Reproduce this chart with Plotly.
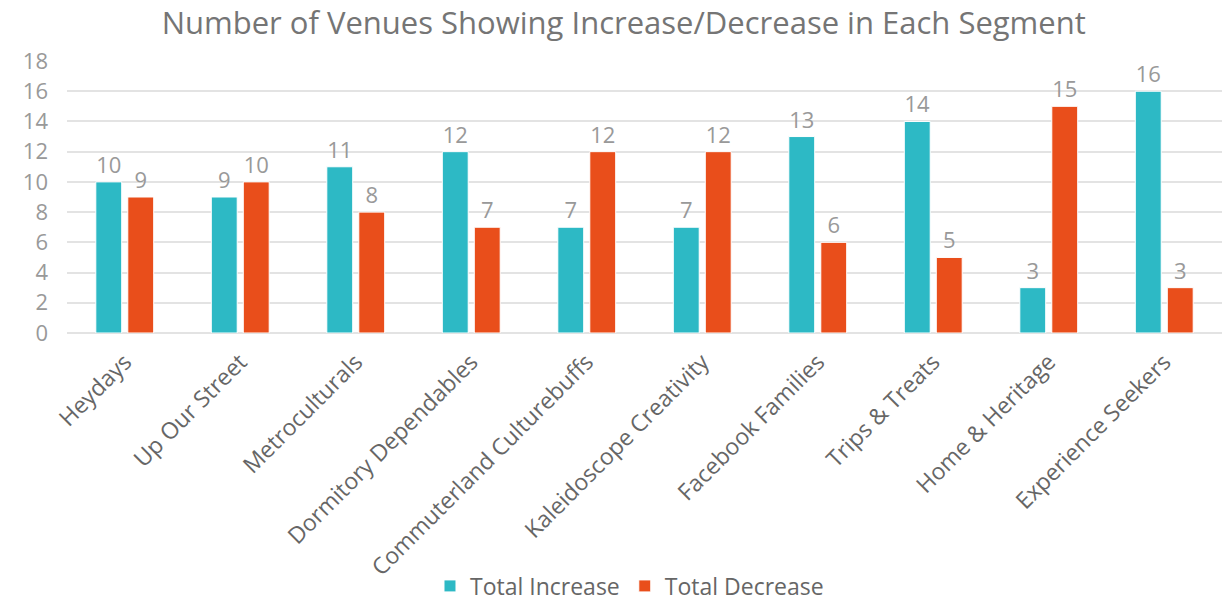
import plotly.graph_objects as go

categories = ["Heydays", "Up Our Street", "Metroculturals", "Dormitory Dependables",
              "Commuterland Culturebuffs", "Kaleidoscope Creativity", "Facebook Families",
              "Trips & Treats", "Home & Heritage", "Experience Seekers"]
total_increase = [10, 9, 11, 12, 7, 7, 13, 14, 3, 16]
total_decrease = [9, 10, 8, 7, 12, 12, 6, 5, 15, 3]
y_ticks = [0, 2, 4, 6, 8, 10, 12, 14, 16, 18]

FONT = "Open Sans"
fig = go.Figure()
fig.add_trace(go.Bar(name="Total Increase", x=categories, y=total_increase,
                     marker=dict(color="#2DB9C5", line=dict(color="white", width=1)),
                     text=total_increase, textposition="outside",
                     textfont=dict(size=22, color="#999999", family=FONT), cliponaxis=False))
fig.add_trace(go.Bar(name="Total Decrease", x=categories, y=total_decrease,
                     marker=dict(color="#E94E1B", line=dict(color="white", width=1)),
                     text=total_decrease, textposition="outside",
                     textfont=dict(size=22, color="#999999", family=FONT), cliponaxis=False))

fig.update_layout(
    width=1223, height=601,
    margin=dict(l=67, r=1, t=61, b=268, autoexpand=False),
    paper_bgcolor="white", plot_bgcolor="white",
    barmode="group", bargap=0.446, bargroupgap=0.19,
    title=dict(text="Number of Venues Showing Increase/Decrease in Each Segment",
               x=0.51, xanchor="center", y=1 - 23 / 601, yanchor="middle",
               font=dict(family=FONT, size=31, color="#757575")),
    legend=dict(orientation="h", x=0.487, xanchor="center", y=-0.93, yanchor="middle",
                font=dict(family=FONT, size=23, color="#666666"), itemwidth=30,
                traceorder="normal"),
    font=dict(family=FONT),
    showlegend=True,
)
fig.update_xaxes(tickangle=-45, tickfont=dict(family=FONT, size=23, color="#666666"),
                 showgrid=False, showline=False, ticks="", automargin=False,
                 ticklabelstandoff=10)
fig.update_yaxes(range=[0, 18], tickvals=y_ticks, showgrid=True, gridcolor="#E3E3E3",
                 gridwidth=2, zeroline=True, zerolinecolor="#E3E3E3", zerolinewidth=2,
                 tickfont=dict(family=FONT, size=22, color="#999999"), ticklabelstandoff=18,
                 automargin=False)

fig.write_html("out.html")
